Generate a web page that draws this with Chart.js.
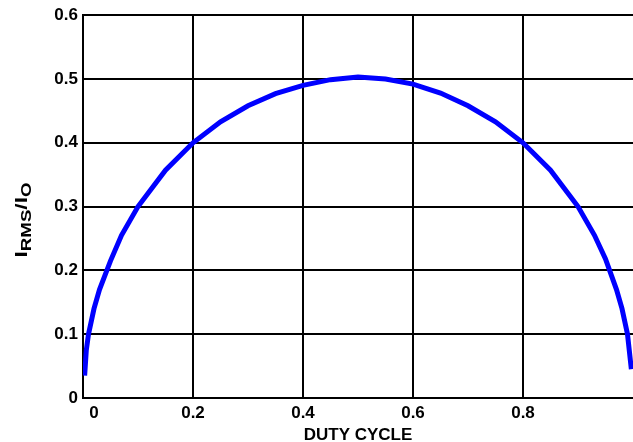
<!DOCTYPE html>
<html>
<head>
<meta charset="utf-8">
<script src="https://cdn.jsdelivr.net/npm/chart.js@4.4.1/dist/chart.umd.min.js"></script>
<style>
html,body{margin:0;padding:0;background:#fff;}
#wrap{width:633px;height:442px;position:relative;}
</style>
</head>
<body>
<div id="wrap"><canvas id="c" width="633" height="442"></canvas></div>
<script>
// Duty cycle (x) and I_RMS/I_O (y)
const dutyCycle = [0.003, 0.006, 0.01, 0.02, 0.03, 0.05, 0.07, 0.10, 0.15, 0.20, 0.25, 0.30, 0.35, 0.40, 0.45, 0.50, 0.55, 0.60, 0.65, 0.70, 0.75, 0.80, 0.85, 0.90, 0.93, 0.95, 0.97, 0.98, 0.99, 0.997];
const irmsRatio = [0.035, 0.075, 0.10, 0.14, 0.17, 0.215, 0.255, 0.30, 0.357, 0.40, 0.433, 0.458, 0.477, 0.49, 0.499, 0.503, 0.500, 0.492, 0.478, 0.458, 0.433, 0.40, 0.357, 0.30, 0.255, 0.218, 0.17, 0.14, 0.10, 0.045];
const xTickValues = [0.02, 0.2, 0.4, 0.6, 0.8];
const xTickLabels = ['0', '0.2', '0.4', '0.6', '0.8'];
const yTickValues = [0, 0.1, 0.2, 0.3, 0.4, 0.5, 0.6];
const yTickLabels = ['0', '0.1', '0.2', '0.3', '0.4', '0.5', '0.6'];
const xTitle = 'DUTY CYCLE';

const FONT = '"Liberation Sans", Arial, sans-serif';

const titlesPlugin = {
  id: 'titles',
  afterDraw(chart) {
    const ctx = chart.ctx;
    // y title: I_RMS / I_O with subscripts, rotated
    ctx.save();
    ctx.translate(27, 220);
    ctx.rotate(-Math.PI / 2);
    ctx.fillStyle = '#000';
    ctx.textBaseline = 'alphabetic';
    const big = 'bold 17px ' + FONT;
    const small = 'bold 14px ' + FONT;
    const parts = [['I', big, 0], ['RMS', small, 4], ['/I', big, 0], ['O', small, 4]];
    let total = 0;
    parts.forEach(p => { ctx.font = p[1]; total += ctx.measureText(p[0]).width; });
    const sx = 75 / total;
    ctx.scale(sx, 1);
    let x = -total / 2;
    parts.forEach(p => {
      ctx.font = p[1];
      ctx.fillText(p[0], x, p[2]);
      x += ctx.measureText(p[0]).width;
    });
    ctx.restore();

    // x title
    ctx.save();
    ctx.fillStyle = '#000';
    ctx.font = 'bold 17px ' + FONT;
    ctx.textAlign = 'center';
    ctx.textBaseline = 'alphabetic';
    ctx.fillText(xTitle, 358, 440);
    ctx.restore();
  }
};

new Chart(document.getElementById('c'), {
  type: 'line',
  data: {
    datasets: [{
      data: dutyCycle.map((d, i) => ({ x: d, y: irmsRatio[i] })),
      borderColor: '#0000ff',
      borderWidth: 5,
      pointRadius: 0,
      tension: 0,
      fill: false
    }]
  },
  options: {
    responsive: false,
    animation: false,
    layout: { padding: { top: 14, right: 0, left: 0, bottom: 0 } },
    plugins: { legend: { display: false }, tooltip: { enabled: false } },
    scales: {
      x: {
        type: 'linear',
        min: 0,
        max: 1,
        afterBuildTicks: s => { s.ticks = xTickValues.map(v => ({ value: v })); },
        afterFit: s => { s.height = 44; },
        ticks: {
          autoSkip: false,
          maxRotation: 0,
          padding: 5,
          color: '#000',
          font: { family: FONT, size: 17, weight: 'bold' },
          callback: (v, i) => xTickLabels[i]
        },
        grid: {
          color: c => (c.tick && c.tick.value === 0.02) ? 'rgba(0,0,0,0)' : '#000',
          lineWidth: 2,
          drawTicks: false
        },
        border: { display: true, color: '#000', width: 2 },
        title: { display: false }
      },
      y: {
        type: 'linear',
        min: 0,
        max: 0.6,
        afterBuildTicks: s => { s.ticks = yTickValues.map(v => ({ value: v })); },
        afterFit: s => { s.width = 83; },
        ticks: {
          autoSkip: false,
          padding: 5,
          color: '#000',
          font: { family: FONT, size: 17, weight: 'bold' },
          callback: (v, i) => yTickLabels[i]
        },
        grid: { color: '#000', lineWidth: 2, drawTicks: false },
        border: { display: true, color: '#000', width: 2 }
      }
    }
  },
  plugins: [titlesPlugin]
});
</script>
</body>
</html>
